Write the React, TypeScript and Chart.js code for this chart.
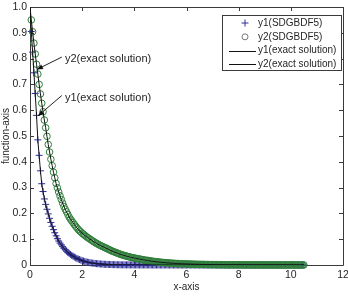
import React, { useEffect, useRef } from "react";
import { Chart, registerables } from "chart.js";

Chart.register(...registerables);

// ---------------- data ----------------
const X_START = 0.05; // first solver step
const X_STEP = 0.05; // solver step size
const X_EXACT_START = 0; // exact solutions start at x = 0
const Y1_EXACT_START = 1;
const Y2_EXACT_START = 1;

const Y1_SDGBDF5 = [
  0.905, 0.825, 0.745, 0.665, 0.58, 0.485, 0.425, 0.365, 0.315, 0.285,
  0.256, 0.235, 0.216, 0.198, 0.181, 0.165, 0.15, 0.137, 0.125, 0.113,
  0.102, 0.093, 0.085, 0.078, 0.071, 0.065, 0.059, 0.054, 0.049, 0.045,
  0.041, 0.037, 0.034, 0.031, 0.028, 0.025, 0.023, 0.021, 0.019, 0.017,
  0.015, 0.014, 0.012, 0.011, 0.01, 0.009, 0.008, 0.0072, 0.0065, 0.0059,
  0.0053, 0.0048, 0.0043, 0.0039, 0.0035, 0.0032, 0.0029, 0.0026, 0.0023, 0.0021,
  0.0019, 0.0017, 0.0015, 0.0014, 0.0013, 0.0011, 0.001, 0.0009, 0.0008, 0.0008,
  0.0007, 0.0006, 0.0006, 0.0005, 0.0005, 0.0004, 0.0004, 0.0004, 0.0003, 0.0003,
  0.0003, 0.0003, 0.0003, 0.0002, 0.0002, 0.0002, 0.0002, 0.0002, 0.0002, 0.0002,
  0.0002, 0.0002, 0.0002, 0.0001, 0.0001, 0.0001, 0.0001, 0.0001, 0.0001, 0.0001,
  0.0001, 0.0001, 0.0001, 0.0001, 0.0001, 0.0001, 0.0001, 0.0001, 0.0001, 0.0001,
  0, 0, 0, 0, 0, 0, 0, 0, 0, 0,
  0, 0, 0, 0, 0, 0, 0, 0, 0, 0,
  0, 0, 0, 0, 0, 0, 0, 0, 0, 0,
  0, 0, 0, 0, 0, 0, 0, 0, 0, 0,
  0, 0, 0, 0, 0, 0, 0, 0, 0, 0,
  0, 0, 0, 0, 0, 0, 0, 0, 0, 0,
  0, 0, 0, 0, 0, 0, 0, 0, 0, 0,
  0, 0, 0, 0, 0, 0, 0, 0, 0, 0,
  0, 0, 0, 0, 0, 0, 0, 0, 0, 0,
  0, 0, 0, 0, 0, 0, 0, 0, 0, 0,
];

const Y2_SDGBDF5 = [
  0.95, 0.904, 0.86, 0.818, 0.778, 0.74, 0.7, 0.663, 0.627, 0.594,
  0.562, 0.532, 0.499, 0.467, 0.438, 0.41, 0.385, 0.36, 0.338, 0.316,
  0.299, 0.283, 0.268, 0.254, 0.24, 0.227, 0.216, 0.206, 0.196, 0.186,
  0.178, 0.171, 0.164, 0.157, 0.15, 0.144, 0.138, 0.132, 0.128, 0.123,
  0.119, 0.115, 0.111, 0.107, 0.104, 0.1, 0.097, 0.093, 0.09, 0.087,
  0.084, 0.081, 0.078, 0.076, 0.073, 0.071, 0.068, 0.066, 0.064, 0.061,
  0.059, 0.056, 0.054, 0.052, 0.05, 0.048, 0.046, 0.044, 0.042, 0.04,
  0.039, 0.037, 0.036, 0.034, 0.033, 0.032, 0.03, 0.029, 0.028, 0.027,
  0.026, 0.025, 0.024, 0.023, 0.022, 0.021, 0.02, 0.019, 0.018, 0.018,
  0.017, 0.016, 0.015, 0.0145, 0.0138, 0.0131, 0.0125, 0.0119, 0.0113, 0.0107,
  0.0102, 0.0097, 0.0092, 0.0088, 0.0084, 0.008, 0.0076, 0.0072, 0.0068, 0.0065,
  0.0062, 0.0059, 0.0056, 0.0053, 0.0051, 0.0048, 0.0046, 0.0044, 0.0042, 0.004,
  0.0038, 0.0036, 0.0034, 0.0032, 0.0031, 0.0029, 0.0028, 0.0026, 0.0025, 0.0024,
  0.0023, 0.0022, 0.0021, 0.002, 0.0019, 0.0018, 0.0017, 0.0016, 0.0015, 0.0015,
  0.0014, 0.0013, 0.0013, 0.0012, 0.0011, 0.0011, 0.001, 0.001, 0.0009, 0.0009,
  0.0008, 0.0008, 0.0008, 0.0007, 0.0007, 0.0007, 0.0006, 0.0006, 0.0006, 0.0005,
  0.0005, 0.0005, 0.0005, 0.0004, 0.0004, 0.0004, 0.0004, 0.0003, 0.0003, 0.0003,
  0.0003, 0.0003, 0.0003, 0.0003, 0.0002, 0.0002, 0.0002, 0.0002, 0.0002, 0.0002,
  0.0002, 0.0002, 0.0002, 0.0002, 0.0001, 0.0001, 0.0001, 0.0001, 0.0001, 0.0001,
  0.0001, 0.0001, 0.0001, 0.0001, 0.0001, 0.0001, 0.0001, 0.0001, 0.0001, 0.0001,
  0.0001, 0.0001, 0.0001, 0.0001, 0.0001, 0, 0, 0, 0, 0,
];

const SERIES_LABELS = [
  "y1(SDGBDF5)",
  "y2(SDGBDF5)",
  "y1(exact solution)",
  "y2(exact solution)",
];

const X_MIN = 0;
const X_MAX = 12;
const X_TICK_STEP = 2;
const Y_MIN = 0;
const Y_MAX = 1;
const Y_TICK_STEP = 0.1;

const X_TITLE = "x-axis";
const Y_TITLE = "function-axis";

// text callouts: label, text anchor, arrow tail, arrow tip (data coordinates)
const CALLOUT_TEXTS = ["y2(exact solution)", "y1(exact solution)"];
const CALLOUT_TEXT_X = [1.34, 1.34];
const CALLOUT_TEXT_Y = [0.797, 0.649];
const CALLOUT_TAIL_X = [1.22, 1.22];
const CALLOUT_TAIL_Y = [0.806, 0.657];
const CALLOUT_TIP_X = [0.267, 0.306];
const CALLOUT_TIP_Y = [0.758, 0.578];

// ---------------- styles ----------------
const FONT = "'Liberation Sans', Arial, Helvetica, sans-serif";
const TEXT_COLOR = "#262626";
const AXIS_COLOR = "#3a3a3a";
const BLUE = "#2d2d94";
const GREEN = "#2f7f3a";
const LINE_COLOR = "#111111";

const toPoints = (vals: number[]) =>
  vals.map((v, i) => ({ x: +(X_START + i * X_STEP).toFixed(4), y: v }));

const framePlugin = {
  id: "matlabFrame",
  beforeDatasetsDraw(chart: any) {
    const { ctx, chartArea: a, scales } = chart;
    ctx.save();
    ctx.strokeStyle = AXIS_COLOR;
    ctx.lineWidth = 1;
    ctx.beginPath();
    ctx.rect(Math.round(a.left) + 0.5, Math.round(a.top) + 0.5, Math.round(a.right - a.left), Math.round(a.bottom - a.top));
    ctx.stroke();
    const tl = 4;
    ctx.beginPath();
    scales.x.ticks.forEach((t: any) => {
      const px = Math.round(scales.x.getPixelForValue(t.value)) + 0.5;
      ctx.moveTo(px, a.bottom);
      ctx.lineTo(px, a.bottom - tl);
      ctx.moveTo(px, a.top);
      ctx.lineTo(px, a.top + tl);
    });
    scales.y.ticks.forEach((t: any) => {
      const py = Math.round(scales.y.getPixelForValue(t.value)) + 0.5;
      ctx.moveTo(a.left, py);
      ctx.lineTo(a.left + tl, py);
      ctx.moveTo(a.right, py);
      ctx.lineTo(a.right - tl, py);
    });
    ctx.stroke();
    ctx.restore();
  },
};

const calloutPlugin = {
  id: "callouts",
  afterDatasetsDraw(chart: any) {
    const { ctx, scales } = chart;
    const sx = scales.x;
    const sy = scales.y;
    ctx.save();
    ctx.font = `11px ${FONT}`;
    ctx.fillStyle = TEXT_COLOR;
    ctx.textAlign = "left";
    ctx.textBaseline = "middle";
    CALLOUT_TEXTS.forEach((txt, i) => {
      ctx.fillText(txt, sx.getPixelForValue(CALLOUT_TEXT_X[i]), sy.getPixelForValue(CALLOUT_TEXT_Y[i]));
      const x0 = sx.getPixelForValue(CALLOUT_TAIL_X[i]);
      const y0 = sy.getPixelForValue(CALLOUT_TAIL_Y[i]);
      const x1 = sx.getPixelForValue(CALLOUT_TIP_X[i]);
      const y1 = sy.getPixelForValue(CALLOUT_TIP_Y[i]);
      ctx.strokeStyle = "#222";
      ctx.lineWidth = 1;
      ctx.beginPath();
      ctx.moveTo(x0, y0);
      ctx.lineTo(x1, y1);
      ctx.stroke();
      const ang = Math.atan2(y1 - y0, x1 - x0);
      const hl = 6;
      const hw = 2.5;
      ctx.fillStyle = "#111";
      ctx.beginPath();
      ctx.moveTo(x1, y1);
      ctx.lineTo(x1 - hl * Math.cos(ang) + hw * Math.sin(ang), y1 - hl * Math.sin(ang) - hw * Math.cos(ang));
      ctx.lineTo(x1 - hl * Math.cos(ang) - hw * Math.sin(ang), y1 - hl * Math.sin(ang) + hw * Math.cos(ang));
      ctx.closePath();
      ctx.fill();
      ctx.fillStyle = TEXT_COLOR;
    });
    ctx.restore();
  },
};

const legendPlugin = {
  id: "boxLegend",
  afterDatasetsDraw(chart: any) {
    const { ctx, chartArea: a } = chart;
    const ds = chart.data.datasets;
    const w = 119;
    const h = 55;
    const right = Math.round(a.right) - 2;
    const left = right - w;
    const top = Math.round(a.top) + 8;
    ctx.save();
    ctx.fillStyle = "#ffffff";
    ctx.fillRect(left, top, w, h);
    ctx.strokeStyle = AXIS_COLOR;
    ctx.lineWidth = 1;
    ctx.strokeRect(left + 0.5, top + 0.5, w, h);
    ctx.font = `10px ${FONT}`;
    ctx.textAlign = "left";
    ctx.textBaseline = "middle";
    ds.forEach((d: any, i: number) => {
      const y = top + 8 + i * 13.8;
      const mx = left + 23;
      if (d.showLine) {
        ctx.strokeStyle = d.borderColor;
        ctx.lineWidth = 1;
        ctx.beginPath();
        ctx.moveTo(left + 7, Math.round(y) + 0.5);
        ctx.lineTo(left + 34, Math.round(y) + 0.5);
        ctx.stroke();
      } else if (d.pointStyle === "cross") {
        const r = 3.5;
        ctx.strokeStyle = d.borderColor;
        ctx.lineWidth = 1;
        ctx.beginPath();
        ctx.moveTo(mx - r, y);
        ctx.lineTo(mx + r, y);
        ctx.moveTo(mx, y - r);
        ctx.lineTo(mx, y + r);
        ctx.stroke();
      } else {
        ctx.strokeStyle = "#777";
        ctx.lineWidth = 1;
        ctx.beginPath();
        ctx.arc(mx, y, 3, 0, Math.PI * 2);
        ctx.stroke();
      }
      ctx.fillStyle = TEXT_COLOR;
      ctx.fillText(d.label, left + 36, y);
    });
    ctx.restore();
  },
};

export default function App() {
  const ref = useRef<HTMLCanvasElement | null>(null);

  useEffect(() => {
    if (!ref.current) return;
    const y1Pts = toPoints(Y1_SDGBDF5);
    const y2Pts = toPoints(Y2_SDGBDF5);
    const y1Exact = [{ x: X_EXACT_START, y: Y1_EXACT_START }, ...y1Pts];
    const y2Exact = [{ x: X_EXACT_START, y: Y2_EXACT_START }, ...y2Pts];

    const chart = new Chart(ref.current, {
      type: "scatter",
      data: {
        datasets: [
          {
            label: SERIES_LABELS[0],
            data: y1Pts,
            showLine: false,
            pointStyle: "cross",
            pointRadius: 3.5,
            pointBorderWidth: 1,
            borderColor: BLUE,
            backgroundColor: BLUE,
            order: 2,
            clip: false,
          } as any,
          {
            label: SERIES_LABELS[1],
            data: y2Pts,
            showLine: false,
            pointStyle: "circle",
            pointRadius: 3.3,
            pointBorderWidth: 1,
            borderColor: GREEN,
            backgroundColor: "rgba(0,0,0,0)",
            order: 1,
            clip: false,
          } as any,
          {
            label: SERIES_LABELS[2],
            data: y1Exact,
            showLine: true,
            pointRadius: 0,
            borderWidth: 1,
            borderColor: LINE_COLOR,
            backgroundColor: LINE_COLOR,
            order: 0,
          } as any,
          {
            label: SERIES_LABELS[3],
            data: y2Exact,
            showLine: true,
            pointRadius: 0,
            borderWidth: 1,
            borderColor: LINE_COLOR,
            backgroundColor: LINE_COLOR,
            order: 0,
          } as any,
        ],
      },
      options: {
        responsive: false,
        animation: false,
        devicePixelRatio: 1,
        events: [],
        layout: { padding: { top: 7, right: 4, left: 0, bottom: 0 } },
        plugins: {
          legend: { display: false },
          tooltip: { enabled: false },
        },
        scales: {
          x: {
            type: "linear",
            min: X_MIN,
            max: X_MAX,
            grid: { display: false, drawTicks: false },
            border: { display: false },
            ticks: {
              stepSize: X_TICK_STEP,
              padding: 4,
              color: TEXT_COLOR,
              maxRotation: 0,
              font: { family: FONT, size: 10.5 },
            },
            title: {
              display: true,
              text: X_TITLE,
              color: TEXT_COLOR,
              font: { family: FONT, size: 10 },
              padding: { top: 0, bottom: 5 },
            },
            afterFit: (s: any) => {
              s.height = 33;
              s.paddingLeft = 0;
              s.paddingRight = 0;
            },
          },
          y: {
            type: "linear",
            min: Y_MIN,
            max: Y_MAX,
            grid: { display: false, drawTicks: false },
            border: { display: false },
            ticks: {
              stepSize: Y_TICK_STEP,
              padding: 3,
              color: TEXT_COLOR,
              font: { family: FONT, size: 10.5 },
            },
            title: {
              display: true,
              text: Y_TITLE,
              color: TEXT_COLOR,
              font: { family: FONT, size: 10 },
              padding: { top: 0, bottom: 0 },
            },
            afterFit: (s: any) => {
              s.width = 30;
              s.paddingTop = 0;
              s.paddingBottom = 0;
            },
          },
        },
      } as any,
      plugins: [framePlugin, calloutPlugin, legendPlugin],
    });
    return () => chart.destroy();
  }, []);

  return (
    <div style={{ position: "fixed", left: 0, top: 0, width: 348, height: 298, background: "#fff" }}>
      <canvas ref={ref} width={348} height={298} style={{ display: "block", width: 348, height: 298 }} />
    </div>
  );
}
